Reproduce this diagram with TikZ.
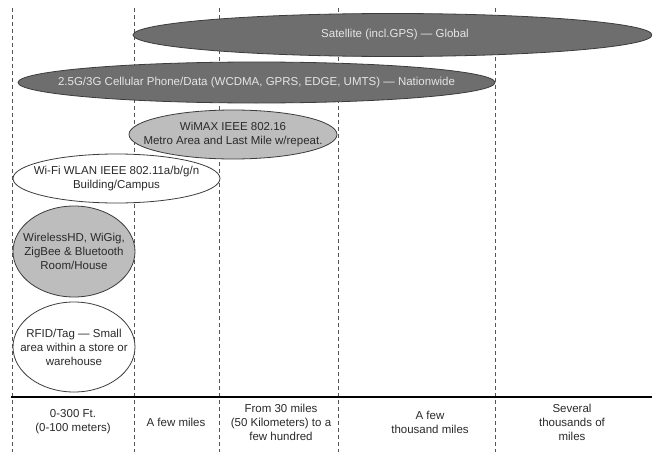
\documentclass[tikz,border=0pt]{standalone}
\usepackage{fontspec}
\setmainfont{Liberation Sans}
\usetikzlibrary{shapes.geometric}
\definecolor{darkfill}{HTML}{6E6E6E}
\definecolor{darkedge}{HTML}{3C3C3C}
\definecolor{midfill}{HTML}{BDBDBD}
\definecolor{gridcol}{HTML}{555555}
\definecolor{txt}{HTML}{2A2A2A}
\tikzset{
  zone/.style={ellipse, draw=darkedge, line width=0.8pt, inner sep=0pt},
  darkzone/.style={zone, fill=darkfill},
  midzone/.style={zone, fill=midfill},
  whitezone/.style={zone, fill=white},
  zonetext/.style={align=center, inner sep=0pt, font=\fontsize{11.5}{14}\selectfont, text=txt},
  lighttext/.style={zonetext, text=white!90!black},
  vline/.style={draw=gridcol, dash pattern=on 4pt off 3pt, line width=0.6pt},
  rangelbl/.style={align=center, inner sep=0pt, font=\fontsize{11.5}{14}\selectfont, text=txt},
}
\begin{document}
\begin{tikzpicture}[x=1pt,y=-1pt]
\useasboundingbox[fill=white] (0,0) rectangle (652,452);
% grid lines
\foreach \gx/\nm in {12/ga,134/gb,219/gc,338/gd,495/ge}{
  \coordinate (\nm t) at (\gx,8);
  \coordinate (\nm b) at (\gx,452);
  \draw[vline] (\nm t) -- (\nm b);
}
% ellipses
\node[darkzone, minimum width=519pt, minimum height=43pt] (sat) at (392.5,35) {};
\node[lighttext] (satl) at (395,35) {Satellite (incl.GPS) — Global};
\node[darkzone, minimum width=477pt, minimum height=41pt] (cell) at (256.5,82.5) {};
\node[lighttext] (celll) at (cell.center) {2.5G/3G Cellular Phone/Data (WCDMA, GPRS, EDGE, UMTS) — Nationwide};
\node[midzone, minimum width=208pt, minimum height=49pt] (wimax) at (233,134.5) {};
\node[zonetext] (wimaxl) at (wimax.center) {WiMAX IEEE 802.16\\Metro Area and Last Mile w/repeat.};
\node[whitezone, minimum width=207pt, minimum height=49pt] (wifi) at (116.5,178.5) {};
\node[zonetext] (wifil) at (wifi.center) {Wi-Fi WLAN IEEE 802.11a/b/g/n\\Building/Campus};
\node[midzone, minimum width=122pt, minimum height=91pt] (whd) at (74,251.5) {};
\node[zonetext] (whdl) at (whd.center) {WirelessHD, WiGig,\\ZigBee \& Bluetooth\\Room/House};
\node[whitezone, minimum width=122pt, minimum height=90pt] (rfid) at (74,347) {};
\node[zonetext] (rfidl) at (rfid.center) {RFID/Tag — Small\\area within a store or\\warehouse};
% axis line
\coordinate (axl) at (11,396.5);
\coordinate (axr) at (652,396.5);
\draw[line width=2pt, black] (axl) -- (axr);
% range labels
\node[rangelbl] (r1) at (73,422) {0-300 Ft.\\(0-100 meters)};
\node[rangelbl] (r2) at (176,422) {A few miles};
\node[rangelbl] (r3) at (281,422) {From 30 miles\\(50 Kilometers) to a\\few hundred};
\node[rangelbl] (r4) at (430,422) {A few\\thousand miles};
\node[rangelbl] (r5) at (572,422) {Several\\thousands of\\miles};
\end{tikzpicture}
\end{document}
